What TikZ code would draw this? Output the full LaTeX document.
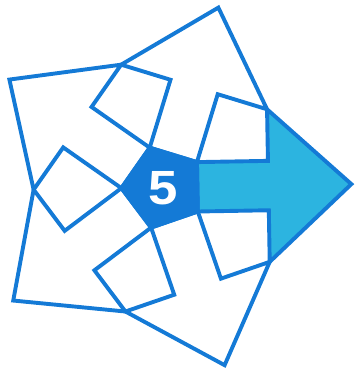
\documentclass[tikz,border=0pt]{standalone}
\usepackage{fontspec}
\setmainfont{Liberation Sans}
\begin{document}
\begin{tikzpicture}[x=1pt,y=1pt]
\definecolor{lineblue}{RGB}{20,122,214}
\definecolor{cyanfill}{RGB}{44,180,224}
\tikzset{
  arrowline/.style={draw=lineblue,line width=3.9pt,line join=miter},
}
\useasboundingbox (-163.4,-182.6) rectangle (192.6,187.4);
\def\ra{34}\def\rh{24.7}\def\rd{105}\def\rH{76.3}\def\rR{188}
% right arrow, filled
\draw[arrowline,fill=cyanfill,rotate=1]
  (\ra,\rh) -- (\rd,\rh) -- (\rd,\rH) -- (\rR,0) -- (\rd,-\rH) -- (\rd,-\rh) -- (\ra,-\rh) -- cycle;
% other arrows
\foreach \k in {1,...,4}{
  \draw[arrowline,rotate=1+72*\k]
    (\ra,\rh) -- (\rd,\rh) -- (\rd,\rH) -- (\rR,0) -- (\rd,-\rH) -- (\rd,-\rh) -- (\ra,-\rh) -- cycle;
}
% central pentagon
\draw[arrowline,fill=lineblue,rotate=1]
  (36:42) -- (108:42) -- (180:42) -- (252:42) -- (324:42) -- cycle;
\node[text=white,font=\fontsize{48}{48}\selectfont\bfseries,inner sep=0pt,xscale=1.1] (five) at (0,-1) {5};
\end{tikzpicture}
\end{document}
